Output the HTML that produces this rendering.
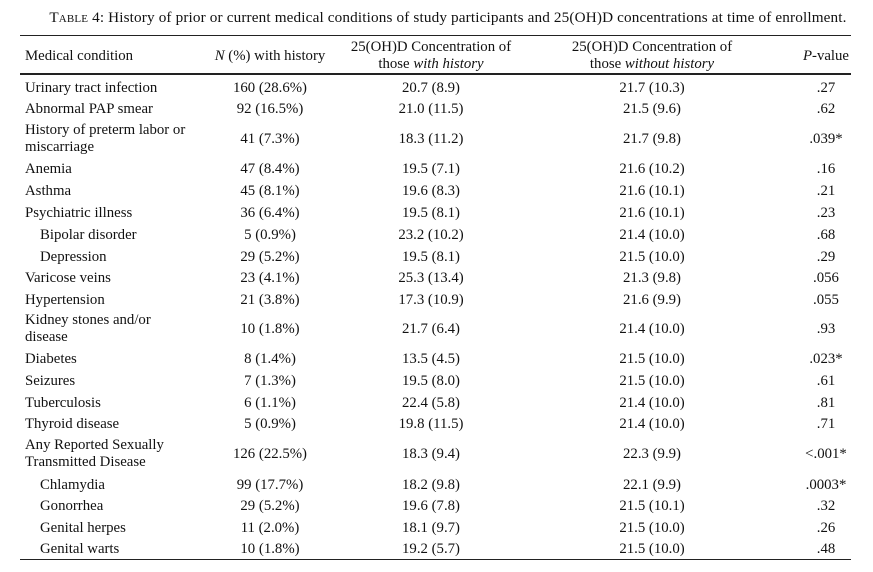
<!DOCTYPE html><html><head><style>
body{margin:0;width:873px;height:572px;background:#fff;position:relative;font-family:"Liberation Serif",serif;font-size:14.8px;color:#111;overflow:hidden}
div.t{position:absolute;white-space:nowrap;line-height:16px}
.c{transform:translateX(-50%)}
.r{position:absolute;left:20px;width:831px;background:#222}
</style></head><body>
<div class="t c" style="left:448px;top:10px;font-size:15.2px;letter-spacing:0.15px"><span style="font-variant:small-caps">Table</span> 4: History of prior or current medical conditions of study participants and 25(OH)D concentrations at time of enrollment.</div>
<div class="r" style="top:35px;height:1px"></div>
<div class="r" style="top:73px;height:2px"></div>
<div class="r" style="top:559px;height:1px"></div>
<div class="t" style="left:25px;top:48px">Medical condition</div>
<div class="t c" style="left:270px;top:48px"><i>N</i> (%) with history</div>
<div class="t c" style="left:431px;top:39px">25(OH)D Concentration of</div>
<div class="t c" style="left:431px;top:56px">those <i>with history</i></div>
<div class="t c" style="left:652px;top:39px">25(OH)D Concentration of</div>
<div class="t c" style="left:652px;top:56px">those <i>without history</i></div>
<div class="t c" style="left:826px;top:48px"><i>P</i>-value</div>
<div id="rows"></div>
<script>
var d=[
[87,"Urinary tract infection","160 (28.6%)","20.7 (8.9)","21.7 (10.3)",".27"],
[108,"Abnormal PAP smear","92 (16.5%)","21.0 (11.5)","21.5 (9.6)",".62"],
[138,"History of preterm labor or|miscarriage","41 (7.3%)","18.3 (11.2)","21.7 (9.8)",".039*"],
[168,"Anemia","47 (8.4%)","19.5 (7.1)","21.6 (10.2)",".16"],
[190,"Asthma","45 (8.1%)","19.6 (8.3)","21.6 (10.1)",".21"],
[212,"Psychiatric illness","36 (6.4%)","19.5 (8.1)","21.6 (10.1)",".23"],
[234,">Bipolar disorder","5 (0.9%)","23.2 (10.2)","21.4 (10.0)",".68"],
[256,">Depression","29 (5.2%)","19.5 (8.1)","21.5 (10.0)",".29"],
[277,"Varicose veins","23 (4.1%)","25.3 (13.4)","21.3 (9.8)",".056"],
[299,"Hypertension","21 (3.8%)","17.3 (10.9)","21.6 (9.9)",".055"],
[328,"Kidney stones and/or|disease","10 (1.8%)","21.7 (6.4)","21.4 (10.0)",".93"],
[358,"Diabetes","8 (1.4%)","13.5 (4.5)","21.5 (10.0)",".023*"],
[380,"Seizures","7 (1.3%)","19.5 (8.0)","21.5 (10.0)",".61"],
[402,"Tuberculosis","6 (1.1%)","22.4 (5.8)","21.4 (10.0)",".81"],
[423,"Thyroid disease","5 (0.9%)","19.8 (11.5)","21.4 (10.0)",".71"],
[453,"Any Reported Sexually|Transmitted Disease","126 (22.5%)","18.3 (9.4)","22.3 (9.9)","&lt;.001*"],
[484,">Chlamydia","99 (17.7%)","18.2 (9.8)","22.1 (9.9)",".0003*"],
[505,">Gonorrhea","29 (5.2%)","19.6 (7.8)","21.5 (10.1)",".32"],
[527,">Genital herpes","11 (2.0%)","18.1 (9.7)","21.5 (10.0)",".26"],
[548,">Genital warts","10 (1.8%)","19.2 (5.7)","21.5 (10.0)",".48"]];
var h="";
d.forEach(function(r){
var y=r[0]+1,n=r[1],x=25;
if(n[0]==">"){x=40;n=n.slice(1);}
var p=n.split("|");
if(p.length==2){h+='<div class="t" style="left:'+x+'px;top:'+(y-17)+'px">'+p[0]+'</div><div class="t" style="left:'+x+'px;top:'+(y)+'px">'+p[1]+'</div>';}
else h+='<div class="t" style="left:'+x+'px;top:'+(y-8)+'px">'+n+'</div>';
[[270,2],[431,3],[652,4],[826,5]].forEach(function(c){h+='<div class="t c" style="left:'+c[0]+'px;top:'+(y-8)+'px">'+r[c[1]]+'</div>';});
});
document.getElementById("rows").innerHTML=h;
</script>
</body></html>
